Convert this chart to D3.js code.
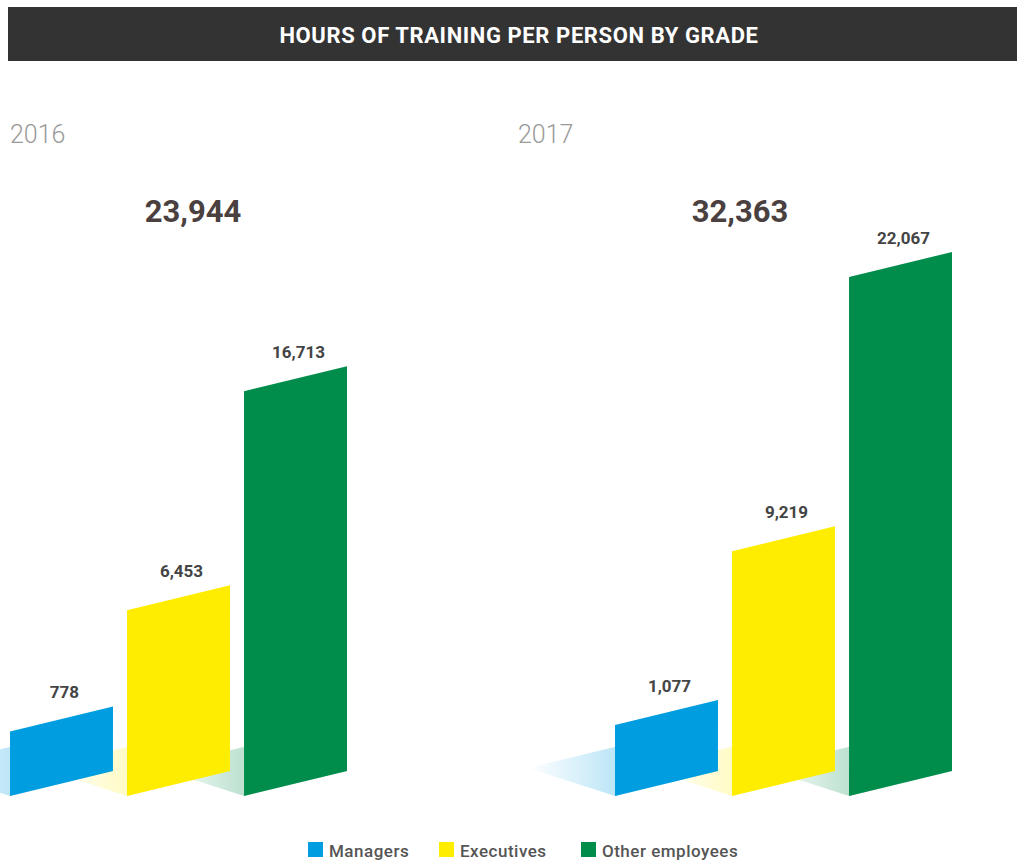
<!DOCTYPE html>
<html>
<head>
<meta charset="utf-8">
<script src="https://cdn.jsdelivr.net/npm/d3@7/dist/d3.min.js"></script>
<style>
  html, body { margin: 0; padding: 0; background: #fff; }
  svg { display: block; }
</style>
</head>
<body>
<svg id="chart" width="1017" height="861"></svg>
<script>
// Training hours per grade, two years
const years = ["2016", "2017"];
const categories = ["Managers", "Executives", "Other employees"];
const values2016 = [778, 6453, 16713];
const values2017 = [1077, 9219, 22067];
const totals = [23944, 32363];
const colors = ["#009ee0", "#ffed00", "#008d4c"];

const title = "HOURS OF TRAINING PER PERSON BY GRADE";

// Layout
const W = 1017, H = 861;
const floorY = 796;          // bottom-left corner of every bar
const skew = 25;             // rise of the top/bottom edges across a bar
const shadowDX = -87, shadowDY = -28;  // floor shadow depth
const panels = [
  { x0: 10, x1: 347, yearX: 10, totalX: 193 },
  { x0: 615, x1: 952, yearX: 518, totalX: 740 }
];
const seriesByYear = [values2016, values2017];

const svg = d3.select("#chart");
const fmt = d3.format(",");

// Title bar
svg.append("rect")
  .attr("x", 8).attr("y", 7).attr("width", W - 8).attr("height", 54)
  .attr("fill", "#333333");
svg.append("text")
  .attr("x", 519).attr("y", 35)
  .attr("text-anchor", "middle").attr("dominant-baseline", "central")
  .attr("font-family", "Roboto, sans-serif").attr("font-weight", 700)
  .attr("font-size", 22).attr("letter-spacing", 0.6).attr("fill", "#ffffff")
  .text(title);

// Height scale shared by both years (bars keep a small base pedestal)
const yMax = d3.max([...values2016, ...values2017]);
const h = d3.scaleLinear().domain([0, yMax]).range([48, 519]);

const defs = svg.append("defs");

years.forEach((year, pi) => {
  const p = panels[pi];
  const vals = seriesByYear[pi];
  const x = d3.scaleBand().domain(categories).range([p.x0, p.x1]).paddingInner(0.12).paddingOuter(0);
  const bw = x.bandwidth();
  const g = svg.append("g");

  // Year label
  g.append("text")
    .attr("x", p.yearX).attr("y", 143)
    .attr("font-family", "Roboto, sans-serif").attr("font-weight", 300)
    .attr("font-size", 25).attr("fill", "#9a9a9a")
    .text(year);

  // Total
  g.append("text")
    .attr("x", p.totalX).attr("y", 222)
    .attr("text-anchor", "middle")
    .attr("font-family", "Roboto, sans-serif").attr("font-weight", 700)
    .attr("font-size", 31).attr("fill", "#4a4040")
    .text(fmt(totals[pi]));

  // Floor shadows (fading towards the back)
  categories.forEach((c, i) => {
    const L = x(c), R = L + bw;
    const gid = `shade-${pi}-${i}`;
    const grad = defs.append("linearGradient")
      .attr("id", gid).attr("gradientUnits", "userSpaceOnUse")
      .attr("x1", L + shadowDX).attr("y1", 0).attr("x2", L).attr("y2", 0);
    grad.append("stop").attr("offset", "0%").attr("stop-color", colors[i]).attr("stop-opacity", 0);
    grad.append("stop").attr("offset", "100%").attr("stop-color", colors[i]).attr("stop-opacity", i === 1 ? 0.22 : 0.26);
    const pts = [
      [L, floorY], [R, floorY - skew],
      [R + shadowDX, floorY - skew + shadowDY], [L + shadowDX, floorY + shadowDY]
    ];
    g.append("path")
      .attr("d", d3.line()(pts) + "Z")
      .attr("fill", `url(#${gid})`);
  });

  // Bars as slanted panels
  categories.forEach((c, i) => {
    const L = x(c), R = L + bw;
    const top = floorY - h(vals[i]);
    const pts = [
      [L, floorY], [R, floorY - skew], [R, top - skew], [L, top]
    ];
    g.append("path")
      .attr("d", d3.line()(pts) + "Z")
      .attr("fill", colors[i]);
    g.append("text")
      .attr("x", L + bw / 2 + 3).attr("y", top - 33)
      .attr("text-anchor", "middle")
      .attr("font-family", "Roboto, sans-serif").attr("font-weight", 700)
      .attr("font-size", 17).attr("fill", "#444444")
      .text(fmt(vals[i]));
  });
});

// Legend
const legendX = [308, 439, 581];
const legend = svg.append("g");
categories.forEach((c, i) => {
  legend.append("rect")
    .attr("x", legendX[i]).attr("y", 842).attr("width", 15).attr("height", 15)
    .attr("fill", colors[i]);
  legend.append("text")
    .attr("x", legendX[i] + 21).attr("y", 857)
    .attr("font-family", "Roboto, sans-serif").attr("font-weight", 500)
    .attr("font-size", 17).attr("letter-spacing", 0.5).attr("fill", "#555555")
    .text(c);
});
</script>
</body>
</html>
